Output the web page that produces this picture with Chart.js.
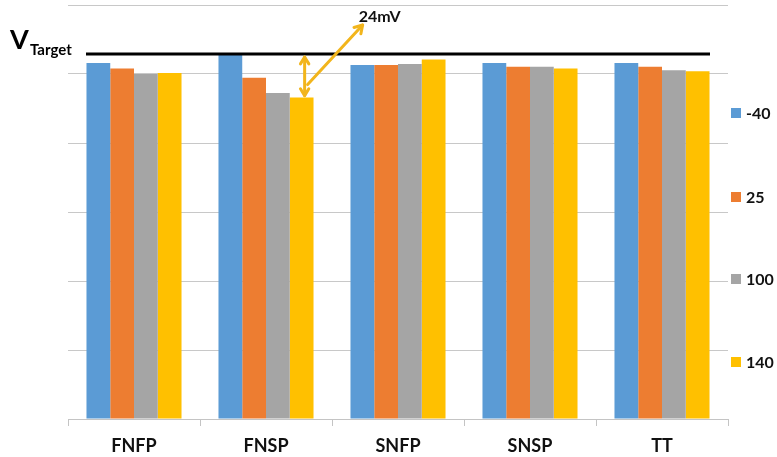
<!DOCTYPE html>
<html>
<head>
<meta charset="utf-8">
<script src="https://cdn.jsdelivr.net/npm/chart.js@4/dist/chart.umd.min.js"></script>
<style>
  html, body { margin: 0; padding: 0; background: #ffffff; }
  #wrap { width: 777px; height: 457px; position: relative; }
</style>
</head>
<body>
<div id="wrap"><canvas id="c" width="777" height="457"></canvas></div>
<script>
// Process corners and temperatures (°C)
const corners = ['FNFP', 'FNSP', 'SNFP', 'SNSP', 'TT'];
const temps = ['-40', '25', '100', '140'];

// Output voltage per corner, in mV above the axis base
const vMinus40 = [196, 200.5, 195, 196, 196];
const v25      = [193, 188, 195, 194, 194];
const v100     = [190, 179.5, 195.5, 194, 192];
const v140     = [190.5, 177, 198, 193, 191.5];

// Target voltage (mV) and the worst-case corner called out
const vTarget = 201;
const worstCorner = 'FNSP';
const worstTemp = '140';
const worstDrop = 24; // mV below target

// Axis range and grid spacing
const yMin = 0;
const yMax = 228;
const yStep = 38;

const seriesColors = ['#5b9bd5', '#ed7d31', '#a5a5a5', '#ffc000'];
const seriesValues = [vMinus40, v25, v100, v140];
const arrowColor = '#f2b51c';
const fontFamily = 'Lato, "Open Sans", sans-serif';

function drawArrowHead(ctx, x1, y1, x2, y2, size) {
  const ang = Math.atan2(y2 - y1, x2 - x1);
  ctx.beginPath();
  ctx.moveTo(x2 - size * Math.cos(ang - 0.55), y2 - size * Math.sin(ang - 0.55));
  ctx.lineTo(x2, y2);
  ctx.lineTo(x2 - size * Math.cos(ang + 0.55), y2 - size * Math.sin(ang + 0.55));
  ctx.stroke();
}

const overlay = {
  id: 'overlay',
  afterDatasetsDraw(chart) {
    const { ctx, scales: { x, y }, chartArea } = chart;
    ctx.save();

    // Target line
    const yT = y.getPixelForValue(vTarget);
    ctx.strokeStyle = '#000000';
    ctx.lineWidth = 3;
    ctx.beginPath();
    ctx.moveTo(chartArea.left + 18, yT);
    ctx.lineTo(chartArea.right - 18, yT);
    ctx.stroke();

    // V_Target label
    ctx.fillStyle = '#000000';
    ctx.textBaseline = 'alphabetic';
    ctx.textAlign = 'left';
    ctx.font = 'bold 27px ' + fontFamily;
    ctx.fillText('V', 10, yT - 5);
    ctx.font = 'bold 15px ' + fontFamily;
    ctx.fillText('Target', 30, yT + 1);

    // Gap arrow from the worst bar up to the target line
    const ci = corners.indexOf(worstCorner);
    const si = temps.indexOf(worstTemp);
    const bar = chart.getDatasetMeta(si).data[ci];
    const ax = bar.x + 3;
    const yBar = y.getPixelForValue(vTarget - worstDrop);
    ctx.strokeStyle = arrowColor;
    ctx.lineWidth = 3;
    ctx.lineCap = 'round';
    ctx.lineJoin = 'round';
    ctx.beginPath();
    ctx.moveTo(ax, yT + 3);
    ctx.lineTo(ax, yBar - 2);
    ctx.stroke();
    drawArrowHead(ctx, ax, yBar - 10, ax, yT + 3, 8);
    drawArrowHead(ctx, ax, yT + 10, ax, yBar - 2, 8);

    // Leader to the value label
    const mx = ax + 3, my = yBar - 13;
    const ex = mx + 55, ey = 25;
    ctx.beginPath();
    ctx.moveTo(mx, my);
    ctx.lineTo(ex, ey);
    ctx.stroke();
    drawArrowHead(ctx, mx, my, ex, ey, 9);

    ctx.fillStyle = '#111111';
    ctx.font = 'bold 16px ' + fontFamily;
    ctx.textBaseline = 'middle';
    ctx.fillText(worstDrop + 'mV', ex - 4, 17);

    // Legend on the right
    const legendY = [113, 197, 279, 362];
    ctx.font = 'bold 16px ' + fontFamily;
    ctx.textBaseline = 'middle';
    chart.data.datasets.forEach((ds, i) => {
      ctx.fillStyle = ds.backgroundColor;
      ctx.fillRect(731, legendY[i] - 5, 10, 10);
      ctx.fillStyle = '#111111';
      ctx.fillText(ds.label, 746, legendY[i] + 1);
    });

    ctx.restore();
  }
};

new Chart(document.getElementById('c'), {
  type: 'bar',
  data: {
    labels: corners,
    datasets: temps.map((t, i) => ({
      label: t,
      data: seriesValues[i],
      backgroundColor: seriesColors[i],
      borderWidth: 0,
      categoryPercentage: 0.72,
      barPercentage: 1.0
    }))
  },
  options: {
    responsive: false,
    animation: false,
    devicePixelRatio: 1,
    layout: { padding: { left: 68, right: 49, top: 5, bottom: 0 } },
    plugins: {
      legend: { display: false },
      tooltip: { enabled: false }
    },
    scales: {
      x: {
        afterFit(scale) { scale.height = 38; },
        grid: {
          offset: true,
          drawOnChartArea: false,
          drawTicks: true,
          tickLength: 7,
          color: '#c4c4c4'
        },
        border: { display: true, color: '#c4c4c4', width: 1 },
        ticks: {
          color: '#111111',
          font: { family: fontFamily, size: 18, weight: 'bold', lineHeight: 1.0 },
          padding: 11
        }
      },
      y: {
        min: yMin,
        max: yMax,
        ticks: { display: false, stepSize: yStep },
        grid: { color: '#c8c8c8', lineWidth: 1, drawTicks: false },
        border: { display: false }
      }
    }
  },
  plugins: [overlay]
});
</script>
</body>
</html>
